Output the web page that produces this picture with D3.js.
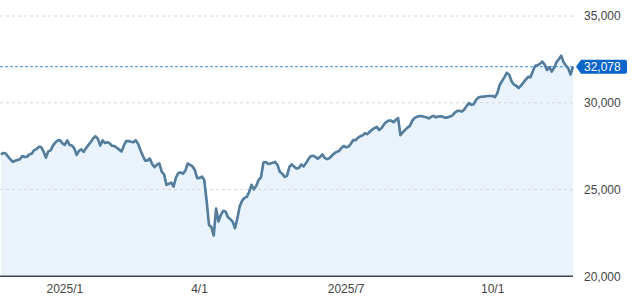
<!DOCTYPE html>
<html lang="en">
  <head>
    <meta charset="UTF-8" />
    <title>Index 1Y</title>
    <script src="https://d3js.org/d3.v7.min.js"></script>
    <style>
      body {
        margin: 0;
        background: #fff;
        font-family: Arial, "Liberation Sans", sans-serif;
      }
    </style>
  </head>
  <body>
    <div id="chart-container"></div>
    <script>
      // daily closes (one per trading day)
      const values = [
        27020, 27110, 27080, 26890, 26740, 26600, 26660, 26700, 26740, 26930,
        26880, 26890, 27030, 27060, 27270, 27330, 27460, 27450, 27190, 26840,
        27200, 27260, 27530, 27710, 27830, 27830, 27660, 27570, 27830, 27570,
        27540, 27370, 27000, 27230, 27320, 27170, 27390, 27570, 27740, 27950,
        28070, 27920, 27540, 27830, 27680, 27730, 27660, 27520, 27500, 27410,
        27300, 27190, 27540, 27800, 27790, 27750, 27720, 27840, 27630, 27270,
        26950, 26660, 26680, 26780, 26450, 26290, 26430, 26500, 26030, 25880,
        25270, 25330, 25400, 25170, 25680, 25950, 25980, 25920, 26090, 26500,
        26420, 26340, 26130, 25650, 25670, 25750, 25550, 24340, 22960, 22840,
        22350, 23910, 23160, 23530, 23770, 23730, 23410, 23300, 23150, 22770,
        23350, 24030, 24360, 24520, 24580, 24860, 25270, 25010, 25210, 25560,
        25700, 26550, 26590, 26480, 26500, 26540, 26590, 26410, 26010, 25910,
        25730, 25790, 26300, 26450, 26320, 26210, 26240, 26440, 26330, 26510,
        26740, 26920, 26950, 26880, 26780, 26880, 27020, 26810, 26750, 26810,
        26960, 27080, 27170, 27220, 27390, 27510, 27430, 27470, 27640, 27850,
        27840, 27980, 28070, 28120, 28240, 28190, 28330, 28450, 28540, 28610,
        28430, 28540, 28750, 28890, 28970, 28970, 28880, 29010, 29120, 28130,
        28300, 28440, 28570, 28670, 28970, 29130, 29190, 29240, 29230, 29190,
        29160, 29100, 29190, 29250, 29160, 29210, 29220, 29190, 29140, 29160,
        29210, 29270, 29430, 29520, 29540, 29490, 29610, 29820, 29980, 29880,
        29920, 30170, 30300, 30350, 30350, 30380, 30390, 30390, 30390, 30320,
        30560, 31030, 31260, 31480, 31730, 31620, 31240, 31050, 30980, 30850,
        30990, 31160, 31340, 31490, 31470, 31810, 32130, 32160, 32250, 32370,
        32200, 31890, 32060, 31800, 32010, 32340, 32510, 32710, 32340, 32150,
        31980, 31630, 32078
      ]

      // month starts, as trading-day index into values
      const tickIndex = [27, 84, 146, 208]
      const tickLabels = ["2025/1", "4/1", "2025/7", "10/1"]

      const yTicks = [20000, 25000, 30000, 35000]

      const width = 640,
        height = 304
      const plot = { left: 1, right: 573, top: 16, bottom: 276.3 }

      const svg = d3
        .select("#chart-container")
        .append("svg")
        .attr("width", width)
        .attr("height", height)

      const x = d3
        .scaleLinear()
        .domain([0, values.length - 1])
        .range([plot.left, plot.right])
      const y = d3.scaleLinear().domain([20000, 35000]).range([plot.bottom, plot.top])

      // area under the line
      const area = d3
        .area()
        .x((d, i) => x(i))
        .y0(plot.bottom)
        .y1(d => y(d))
      svg.append("path").datum(values).attr("d", area).attr("fill", "#eaf2fb")

      // grid lines
      svg
        .append("g")
        .selectAll("line")
        .data(yTicks.filter(d => d > 20000))
        .join("line")
        .attr("x1", 0)
        .attr("x2", 574)
        .attr("y1", d => y(d))
        .attr("y2", d => y(d))
        .attr("stroke", "#d6d6d6")
        .attr("stroke-width", 1)
        .attr("stroke-dasharray", "3 3")

      // current value line
      const last = values[values.length - 1]
      svg
        .append("line")
        .attr("x1", 0)
        .attr("x2", 574)
        .attr("y1", y(last))
        .attr("y2", y(last))
        .attr("stroke", "#3a8ee0")
        .attr("stroke-width", 1)
        .attr("stroke-dasharray", "3 2")

      // line, drawn twice to get the blue edge
      const line = d3
        .line()
        .x((d, i) => x(i))
        .y(d => y(d))
      svg
        .append("path")
        .datum(values)
        .attr("d", line)
        .attr("fill", "none")
        .attr("stroke", "#2f80d2")
        .attr("stroke-width", 2.6)
        .attr("stroke-linejoin", "round")
      svg
        .append("path")
        .datum(values)
        .attr("d", line)
        .attr("fill", "none")
        .attr("stroke", "#6a7a7c")
        .attr("stroke-width", 1.5)
        .attr("stroke-linejoin", "round")

      // bottom axis line
      svg
        .append("line")
        .attr("x1", 0)
        .attr("x2", 573)
        .attr("y1", plot.bottom)
        .attr("y2", plot.bottom)
        .attr("stroke", "#3d4654")
        .attr("stroke-width", 1.5)

      // y labels
      svg
        .append("g")
        .selectAll("text")
        .data(yTicks)
        .join("text")
        .attr("x", 584)
        .attr("y", d => y(d))
        .attr("dy", "0.35em")
        .attr("font-size", 12)
        .attr("fill", "#444")
        .text(d => d3.format(",")(d))

      // x labels
      svg
        .append("g")
        .selectAll("text")
        .data(tickIndex)
        .join("text")
        .attr("x", d => x(d))
        .attr("y", 288.5)
        .attr("dy", "0.35em")
        .attr("text-anchor", "middle")
        .attr("font-size", 12)
        .attr("fill", "#444")
        .text((d, i) => tickLabels[i])

      // current value tag
      const ty = y(last)
      svg
        .append("path")
        .attr(
          "d",
          `M576,${ty} L581,${ty - 7} L625,${ty - 7} Q627,${ty - 7} 627,${ty - 5} L627,${ty + 5} Q627,${ty + 7} 625,${ty + 7} L581,${ty + 7} Z`
        )
        .attr("fill", "#0a65c9")
      svg
        .append("text")
        .attr("x", 584)
        .attr("y", ty)
        .attr("dy", "0.35em")
        .attr("font-size", 12)
        .attr("fill", "#fff")
        .text(d3.format(",")(last))
    </script>
  </body>
</html>
